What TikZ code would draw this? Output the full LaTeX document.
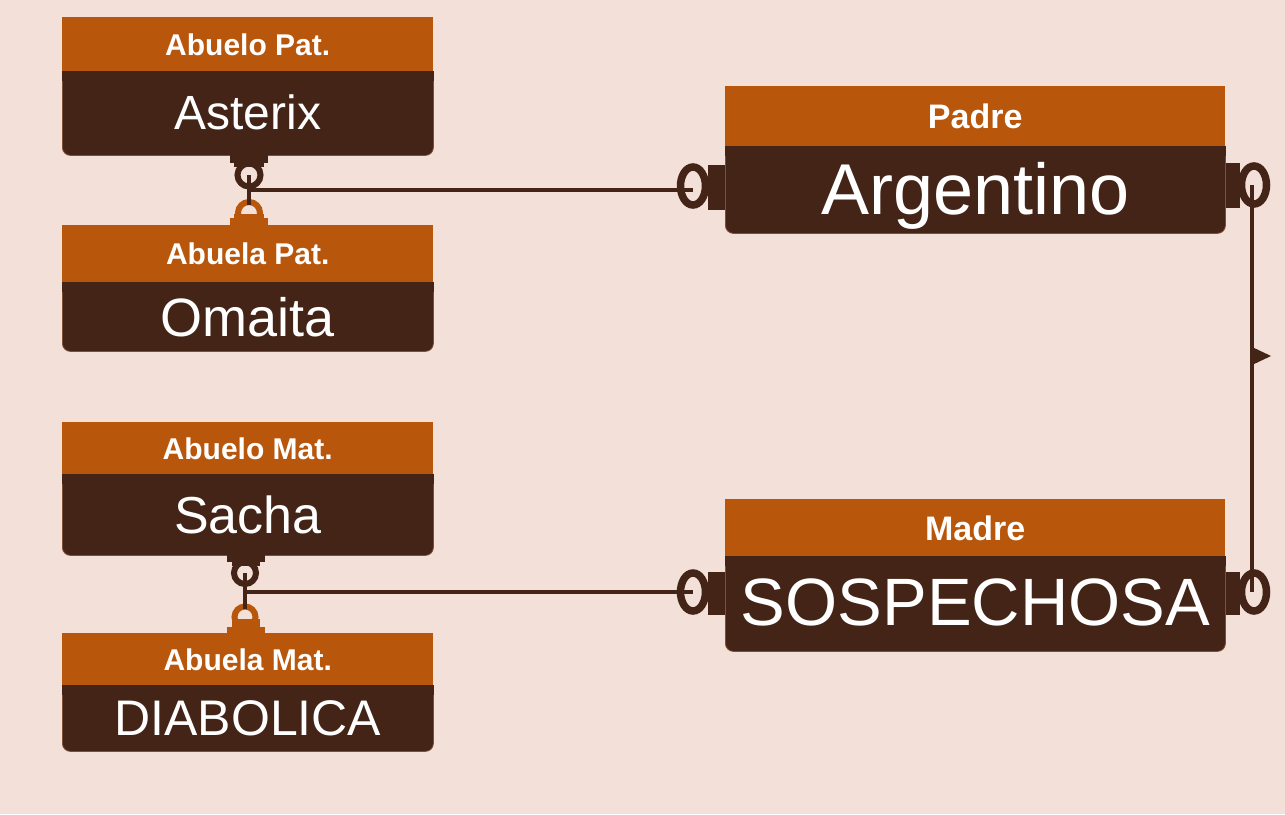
\documentclass[tikz,border=0pt]{standalone}
\usepackage{fontspec}
\setmainfont{Liberation Sans}
\usepackage{xcolor}
\definecolor{fondo}{HTML}{F2E0D9}
\definecolor{naranja}{HTML}{B8560C}
\definecolor{marron}{HTML}{442416}
\definecolor{borde}{HTML}{7E4E36}

\newcommand{\tam}[1]{\fontsize{#1}{#1}\selectfont}

\begin{document}
\begin{tikzpicture}[x=1pt,y=-1pt,
        head/.style = {rectangle, fill=naranja, text=white,
            inner sep=0pt, text depth=0pt, anchor=north west,
            font=\bfseries\tam{30}},
        body/.style = {rectangle, rounded corners=8pt, fill=marron,
            draw=borde, line width=0.8pt, text=white,
            inner sep=0pt, text depth=0pt, anchor=north west},
        tab/.style = {fill=marron},
        ring/.style = {draw=marron, line width=6pt},
        link/.style = {draw=marron, line width=3.5pt}]

        % Background
        \fill[fondo] (0,0) rectangle (1285,814);

        % Abuelo Pat.
        \node[body, minimum width=371pt, minimum height=84pt, font=\tam{48}] (asterix) at (62,71) {\raisebox{3pt}{Asterix}};
        \fill[marron] (asterix.north west) rectangle ([yshift=-10pt]asterix.north east);
        \node[head, minimum width=371pt, minimum height=54pt] (hAsterix) at (62,17) {Abuelo Pat.};

        % Abuela Pat.
        \node[body, minimum width=371pt, minimum height=69pt, font=\tam{54}] (omaita) at (62,282) {Omaita};
        \fill[marron] (omaita.north west) rectangle ([yshift=-10pt]omaita.north east);
        \node[head, minimum width=371pt, minimum height=57pt] (hOmaita) at (62,225) {Abuela Pat.};

        % Abuelo Mat.
        \node[body, minimum width=371pt, minimum height=81pt, font=\tam{52}] (sacha) at (62,474) {Sacha};
        \fill[marron] (sacha.north west) rectangle ([yshift=-10pt]sacha.north east);
        \node[head, minimum width=371pt, minimum height=52pt] (hSacha) at (62,422) {Abuelo Mat.};

        % Abuela Mat.
        \node[body, minimum width=371pt, minimum height=66pt, font=\tam{50}] (diabolica) at (62,685) {DIABOLICA};
        \fill[marron] (diabolica.north west) rectangle ([yshift=-10pt]diabolica.north east);
        \node[head, minimum width=371pt, minimum height=52pt] (hDiabolica) at (62,633) {Abuela Mat.};

        % Padre
        \node[body, minimum width=500pt, minimum height=87pt, font=\tam{72}] (argentino) at (725,146) {\raisebox{3pt}{Argentino}};
        \fill[marron] (argentino.north west) rectangle ([yshift=-10pt]argentino.north east);
        \node[head, minimum width=500pt, minimum height=60pt, font=\bfseries\tam{34}] (hArgentino) at (725,86) {Padre};

        % Madre
        \node[body, minimum width=500pt, minimum height=95pt, font=\tam{67}] (sospechosa) at (725,556) {\raisebox{3pt}{SOSPECHOSA}};
        \fill[marron] (sospechosa.north west) rectangle ([yshift=-10pt]sospechosa.north east);
        \node[head, minimum width=500pt, minimum height=57pt, font=\bfseries\tam{34}] (hSospechosa) at (725,499) {Madre};

        % Ring points
        \coordinate (rAsterix) at (249,175);
        \coordinate (rOmaita) at (249,213);
        \coordinate (jPat) at (249,190);
        \coordinate (rSacha) at (245,573);
        \coordinate (rDiabolica) at (245,617);
        \coordinate (jMat) at (245,592);
        \coordinate (rPadreL) at (693,186);
        \coordinate (rPadreR) at (1254,185);
        \coordinate (rMadreL) at (693,592);
        \coordinate (rMadreR) at (1254,592);
        \coordinate (flecha) at (1252,356);

        % Paternal pair
        \draw[ring] (rAsterix) circle(11.5);
        \fill[tab] (230,155) rectangle (268,163);
        \fill[tab] (234,163) rectangle (264,167);
        \draw[ring, draw=naranja] (rOmaita) circle(11);
        \fill[naranja] (234,214) rectangle (264,219);
        \fill[naranja] (230,218) rectangle (268,225);
        \draw[link, line width=4.5pt] (rAsterix) -- ([yshift=8pt]rOmaita);
        \draw[link] (jPat) -- (jPat -| rPadreL);

        % Maternal pair
        \draw[ring] (rSacha) circle(11);
        \fill[tab] (227,555) rectangle (265,562);
        \fill[tab] (232,562) rectangle (260,566);
        \draw[ring, draw=naranja] (rDiabolica) circle(10.5);
        \fill[naranja] (232,619) rectangle (260,627);
        \fill[naranja] (227,627) rectangle (265,633);
        \draw[link, line width=4.5pt] (rSacha) -- ([yshift=8pt]rDiabolica);
        \draw[link] (jMat) -- (rMadreL);

        % Side tabs
        \fill[tab] (708,165) rectangle (argentino.west |- 0,210);
        \fill[tab] (argentino.east |- 0,163) rectangle (1240,208);
        \fill[tab] (708,572) rectangle (sospechosa.west |- 0,615);
        \fill[tab] (sospechosa.east |- 0,572) rectangle (1240,615);
        \draw[ring, line width=7.5pt] (rPadreL) ellipse(12.5 and 19);
        \draw[ring, line width=7.5pt] (rPadreR) ellipse(12.5 and 19);
        \draw[ring, line width=7.5pt] (rMadreL) ellipse(12.5 and 19);
        \draw[ring, line width=7.5pt] (rMadreR) ellipse(12.5 and 19);

        % Padre to Madre
        \draw[link] ([xshift=-2pt]rPadreR) -- ([xshift=-2pt]rMadreR);
        \fill[marron] (flecha) ++(0,-9) -- ++(19,9) -- ++(-19,9) -- cycle;
    \end{tikzpicture}
\end{document}
